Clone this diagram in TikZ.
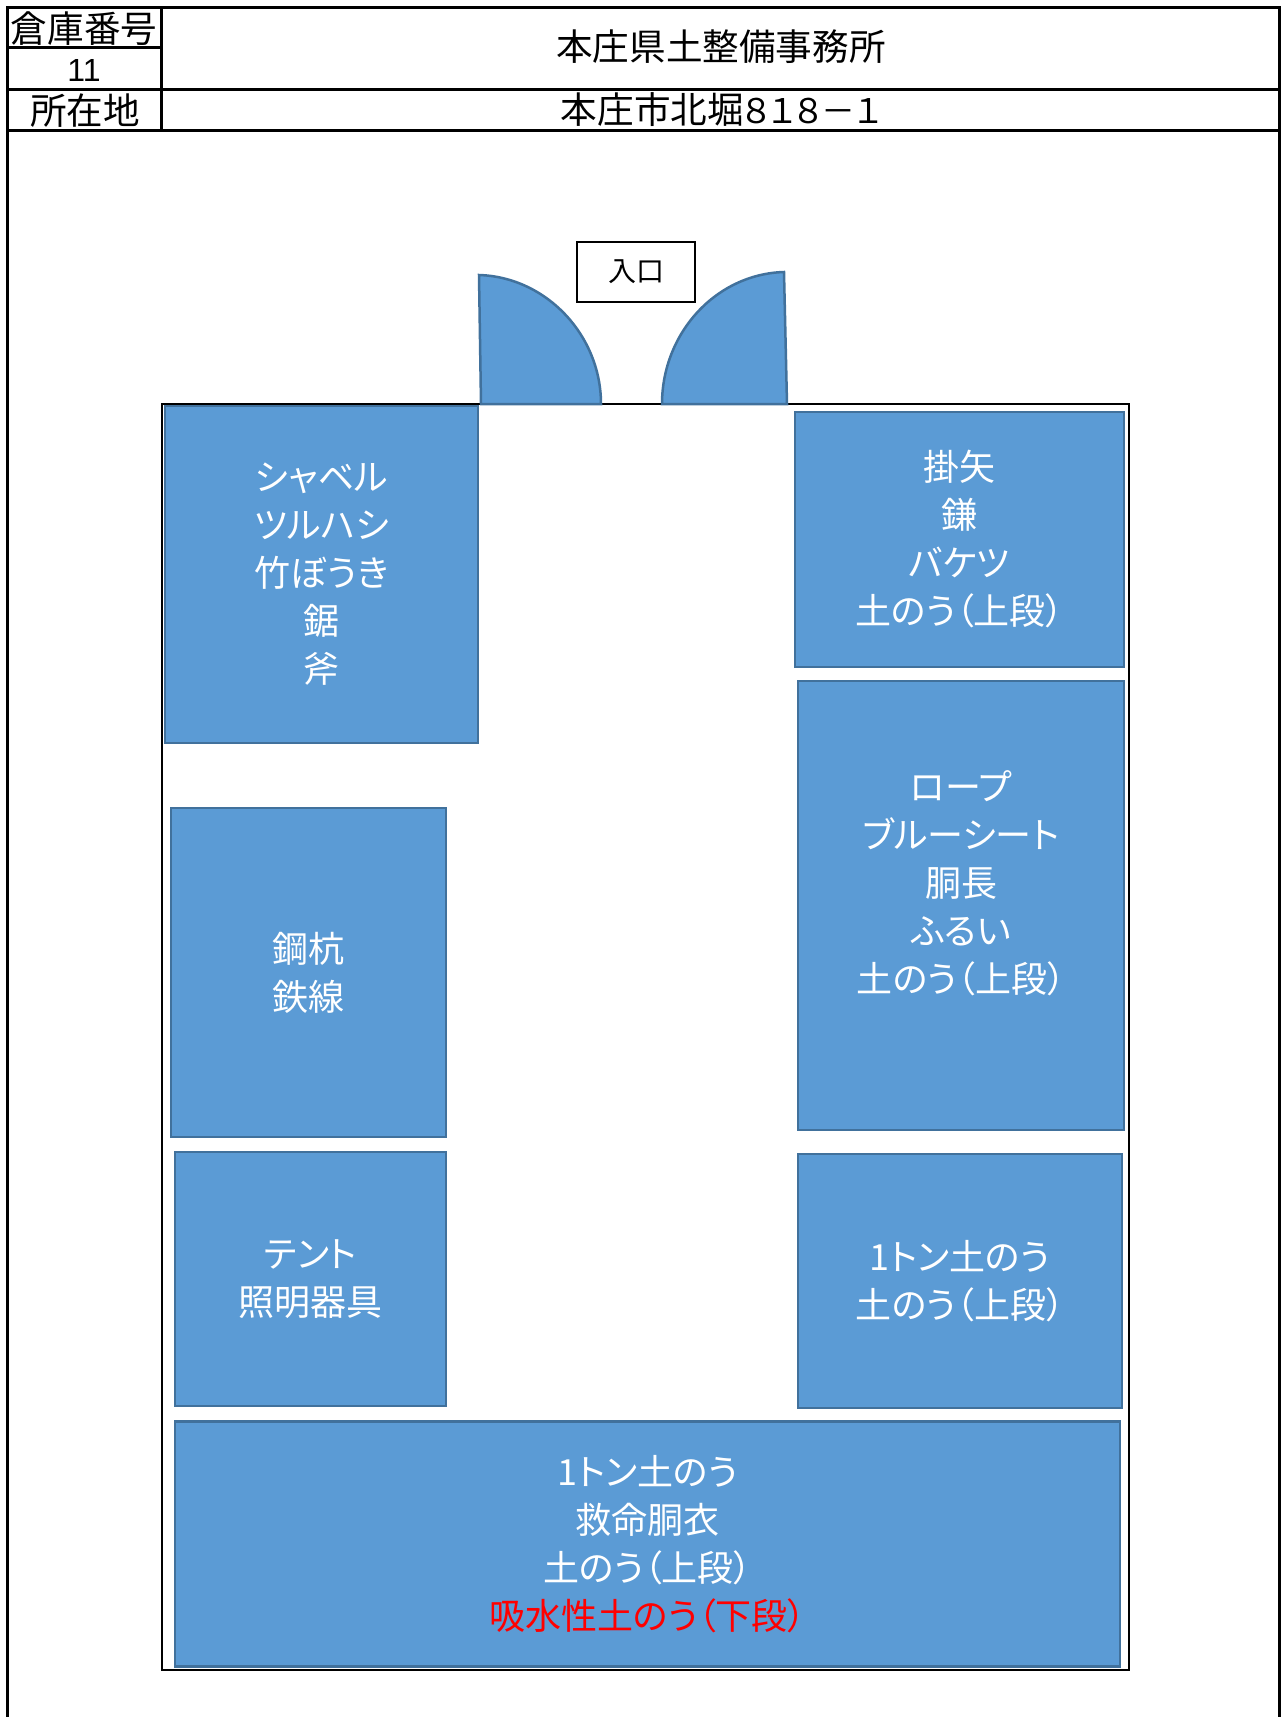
\documentclass[tikz,border=0pt]{standalone}
\usepackage{fontspec}
\newfontfamily\jp[RawFeature=+palt]{Noto Sans CJK JP}
\newfontfamily\lat{Liberation Sans}
\definecolor{shelffill}{HTML}{5B9BD5}
\definecolor{shelfline}{HTML}{41719C}
\tikzset{
every node/.style={inner sep=0pt, outer sep=0pt, font=\jp},
shelf/.style={draw=shelfline, fill=shelffill, line width=2.5pt, text=white, align=center, font=\jp\fontsize{36}{48}\selectfont},
rule/.style={draw=black, line width=3pt},
head/.style={font=\jp\fontsize{36.6}{40}\selectfont},
}
\newcommand{\ue}{土のう（上段）}

\begin{document}
\begin{tikzpicture}[x=1pt, y=-1pt]
    \useasboundingbox (0,0) rectangle (1281,1717);

    % header table
    \draw[rule] (7.5,1717) -- (7.5,7) -- (1281,7) (7.5,89.5) -- (1281,89.5) (7.5,130.5) -- (1281,130.5)
    (7.5,47) -- (161,47) (161,7) -- (161,130.5);
    \draw[rule] (1279.5,7) -- (1279.5,1717);
    \node[head] (no) at (84,29) {倉庫番号};
    \node[head, font=\lat\fontsize{32}{36}\selectfont] (num) at (84,70) {11};
    \node[head] (loc) at (85,111) {所在地};
    \node[head] (name) at (721,47) {本庄県土整備事務所};
    \node[head] (addr) at (721,110) {本庄市北堀{\fontsize{34}{40}\selectfont ８１８－１}};

    % room and doors
    \draw[line width=2.5pt] (162,404) rectangle (1129,1670);
    \node[draw, line width=1.5pt, minimum width=118pt, minimum height=60pt, font=\jp\fontsize{28}{30}\selectfont] (door) at (636,272) {入口};
    \draw[shelf] (479,275) .. controls (546,277) and (601,335) .. (601,404) -- (481,404) -- cycle;
    \draw[shelf] (662,404) .. controls (662,333) and (716,274) .. (784,272) -- (787,404) -- cycle;

    % shelves
    \node[shelf, minimum width=313pt, minimum height=337pt] (s1) at (321.5,574.5) {シャベル\\ツルハシ\\竹ぼうき\\鋸\\斧};
    \node[shelf, minimum width=329pt, minimum height=255pt] (s2) at (959.5,539.5) {掛矢\\鎌\\バケツ\\\ue};
    \node[shelf, minimum width=326pt, minimum height=449pt] (s3) at (961,905.5) {ロープ\\ブルーシート\\胴長\\ふるい\\\ue\\\mbox{}};
    \node[shelf, minimum width=275pt, minimum height=329pt] (s4) at (308.5,972.5) {鋼杭\\鉄線};
    \node[shelf, minimum width=271pt, minimum height=254pt] (s5) at (310.5,1279) {テント\\照明器具};
    \node[shelf, minimum width=324pt, minimum height=254pt] (s6) at (960,1281) {1トン土のう\\\ue};
    \node[shelf, minimum width=945pt, minimum height=245pt] (s7) at (647.5,1544) {1トン土のう\\救命胴衣\\\ue\\\textcolor{red}{吸水性土のう（下段）}};
\end{tikzpicture}
\end{document}
